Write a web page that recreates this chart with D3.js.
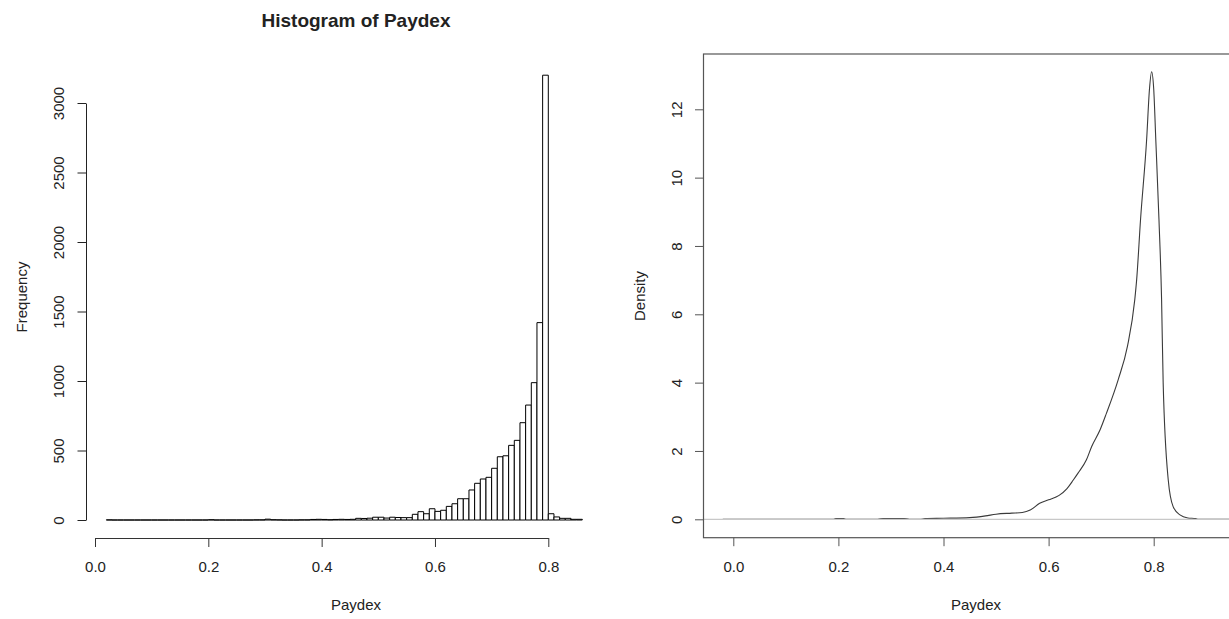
<!DOCTYPE html>
<html>
<head>
<meta charset="utf-8">
<script src="https://cdn.jsdelivr.net/npm/d3@7"></script>
<style>
  body { margin: 0; background: #fff; }
  text { font-family: "Liberation Sans", Arial, sans-serif; fill: #222; }
</style>
</head>
<body>
<script>
const W = 1229, H = 619;
const FS = 15;

// histogram: bins of width 0.01 starting at 0.02
const binStart = 0.02;
const binWidth = 0.01;
const binCounts = [
  1, 0, 0, 0, 0, 0, 0, 0, 0, 0,      // 0.02 - 0.11
  0, 0, 0, 0, 0, 0, 0, 0, 2, 0,      // 0.12 - 0.21
  0, 0, 0, 0, 0, 0, 1, 1, 6, 2,      // 0.22 - 0.31
  1, 0, 0, 0, 1, 1, 4, 5, 4, 2,      // 0.32 - 0.41
  4, 5, 4, 5, 12, 11, 13, 20, 20, 14, // 0.42 - 0.51
  20, 18, 17, 17, 41, 60, 45, 81, 62, 70, // 0.52 - 0.61
  98, 117, 153, 153, 216, 264, 295, 307, 372, 455, // 0.62 - 0.71
  462, 537, 573, 700, 827, 988, 1420, 3200, 45, 22, // 0.72 - 0.81
  12, 12, 5, 5                        // 0.82 - 0.85
];
const freqTicks = [0, 500, 1000, 1500, 2000, 2500, 3000];
const paydexTicks = [0.0, 0.2, 0.4, 0.6, 0.8];

// density estimate
const densX = [-0.02, 0.19, 0.195, 0.21, 0.215, 0.275, 0.285, 0.325, 0.335, 0.355, 0.365, 0.40, 0.45, 0.48,
  0.50, 0.53, 0.55, 0.565, 0.583, 0.60, 0.62, 0.635, 0.647, 0.656, 0.672, 0.682, 0.698, 0.71, 0.7325,
  0.75, 0.764, 0.7675, 0.775, 0.7865, 0.792, 0.796, 0.80, 0.804, 0.81, 0.815, 0.818, 0.8277, 0.837,
  0.85, 0.865, 0.88, 0.885, 0.95];
const densY = [0, 0, 0.025, 0.025, 0, 0, 0.025, 0.025, 0, 0, 0.02, 0.03, 0.05, 0.1,
  0.15, 0.18, 0.2, 0.27, 0.47, 0.57, 0.7, 0.9, 1.15, 1.35, 1.74, 2.13, 2.62, 3.1, 4.09,
  5.06, 6.43, 7.0, 8.78, 11.1, 12.6, 13.1, 12.6, 11.1, 8.78, 6.43, 4.0, 1.15, 0.37,
  0.13, 0.04, 0.02, 0, 0];
const densTicks = [0, 2, 4, 6, 8, 10, 12];

const svg = d3.select("body").append("svg")
  .attr("width", W)
  .attr("height", H);

// ---------- left: histogram ----------
const xL = d3.scaleLinear().domain([0, 0.8]).range([95, 548.3]);
const yL = d3.scaleLinear().domain([0, 3000]).range([520, 103]);

const bins = binCounts.map((c, i) => ({ x0: binStart + i * binWidth, x1: binStart + (i + 1) * binWidth, n: c }));

svg.append("g").selectAll("path")
  .data(bins)
  .enter()
  .append("path")
  .attr("d", d => {
    const a = xL(d.x0), b = xL(d.x1), y0 = yL(0), y1 = yL(d.n);
    return `M${a},${y0}V${y1}H${b}V${y0}Z`;
  })
  .attr("fill", "#fff")
  .attr("stroke", "#000")
  .attr("stroke-width", 1);

// x axis
const gxL = svg.append("g")
  .attr("transform", "translate(0,538)")
  .call(d3.axisBottom(xL).tickValues(paydexTicks).tickFormat(d3.format(".1f")).tickSize(9).tickSizeOuter(0));
gxL.selectAll("path, line").attr("stroke", "#333");
gxL.selectAll("text").attr("y", 34).attr("dy", 0).attr("font-size", FS).attr("fill", "#222").attr("font-family", null);

// y axis
const gyL = svg.append("g")
  .attr("transform", "translate(86,0)")
  .call(d3.axisLeft(yL).tickValues(freqTicks).tickFormat(d3.format("d")).tickSize(8.5).tickSizeOuter(0));
gyL.selectAll("path, line").attr("stroke", "#222");
gyL.selectAll("text")
  .attr("transform", "rotate(-90)")
  .attr("x", 0).attr("y", -22).attr("dy", 0)
  .attr("text-anchor", "middle")
  .attr("font-size", FS).attr("fill", "#222").attr("font-family", null);

svg.append("text")
  .attr("x", 356).attr("y", 27)
  .attr("text-anchor", "middle")
  .attr("font-weight", "bold")
  .attr("font-size", 19)
  .text("Histogram of Paydex");

svg.append("text")
  .attr("x", 356).attr("y", 610)
  .attr("text-anchor", "middle")
  .attr("font-size", FS)
  .text("Paydex");

svg.append("text")
  .attr("transform", "translate(27,297) rotate(-90)")
  .attr("text-anchor", "middle")
  .attr("font-size", FS)
  .text("Frequency");

// ---------- right: density ----------
const xR = d3.scaleLinear().domain([0, 0.8]).range([733.3, 1153.7]);
const yR = d3.scaleLinear().domain([0, 12]).range([519.3, 109.3]);
const box = { x0: 703.5, x1: 1253, y0: 54, y1: 537.7 };

const dens = densX.map((x, i) => [x, densY[i]]);
svg.append("path")
  .datum(dens)
  .attr("d", d3.line().curve(d3.curveMonotoneX).x(d => xR(d[0])).y(d => yR(d[1])))
  .attr("fill", "none")
  .attr("stroke", "#3a3a3a")
  .attr("stroke-width", 1.1);

// zero line drawn on top, as R does
svg.append("line")
  .attr("x1", box.x0).attr("x2", box.x1)
  .attr("y1", yR(0)).attr("y2", yR(0))
  .attr("stroke", "#c8c8c8")
  .attr("stroke-width", 1.3);

svg.append("rect")
  .attr("x", box.x0).attr("y", box.y0)
  .attr("width", box.x1 - box.x0).attr("height", box.y1 - box.y0)
  .attr("fill", "none")
  .attr("stroke", "#555")
  .attr("stroke-width", 1.2);

const gxR = svg.append("g")
  .attr("transform", `translate(0,${box.y1})`)
  .call(d3.axisBottom(xR).tickValues(paydexTicks).tickFormat(d3.format(".1f")).tickSize(8.5).tickSizeOuter(0));
gxR.select(".domain").remove();
gxR.selectAll("line").attr("stroke", "#555");
gxR.selectAll("text").attr("y", 34).attr("dy", 0).attr("font-size", FS).attr("fill", "#333").attr("font-family", null);

const gyR = svg.append("g")
  .attr("transform", `translate(${box.x0},0)`)
  .call(d3.axisLeft(yR).tickValues(densTicks).tickSize(8.5).tickSizeOuter(0));
gyR.select(".domain").remove();
gyR.selectAll("line").attr("stroke", "#555");
gyR.selectAll("text")
  .attr("transform", "rotate(-90)")
  .attr("x", 0).attr("y", -22).attr("dy", 0)
  .attr("text-anchor", "middle")
  .attr("font-size", FS).attr("fill", "#333").attr("font-family", null);

svg.append("text")
  .attr("x", 976).attr("y", 610)
  .attr("text-anchor", "middle")
  .attr("font-size", FS)
  .attr("fill", "#333")
  .text("Paydex");

svg.append("text")
  .attr("transform", "translate(645,296) rotate(-90)")
  .attr("text-anchor", "middle")
  .attr("font-size", FS)
  .attr("fill", "#333")
  .text("Density");
</script>
</body>
</html>
